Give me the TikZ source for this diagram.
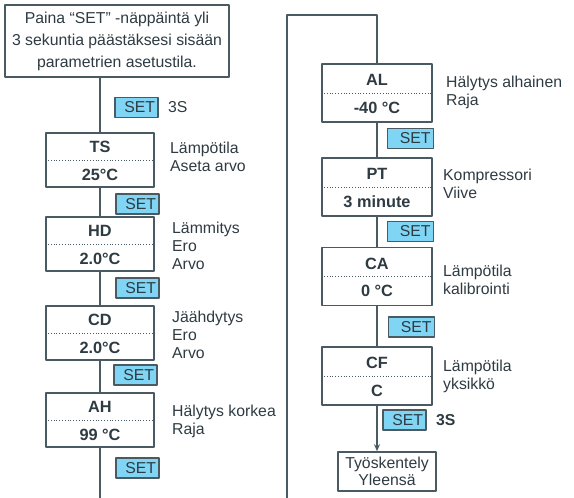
\documentclass[tikz,border=0pt]{standalone}
\usepackage{fontspec}
\setmainfont{Liberation Sans}
\usetikzlibrary{calc,arrows.meta}
\definecolor{viiva}{HTML}{4A5A62}
\definecolor{teksti}{HTML}{2E3B42}
\definecolor{setsin}{HTML}{80D4F4}
\tikzset{
	yhteys/.style={draw=viiva, line width=1.6pt},
	laatikko/.style={draw=viiva, line width=1.6pt, fill=white, inner sep=0pt},
	vasen/.style={laatikko, minimum width=108pt, minimum height=54pt},
	oikea/.style={laatikko, minimum width=110pt, minimum height=58pt},
	setnappi/.style={draw=viiva, line width=1.4pt, fill=setsin, text=teksti, inner xsep=3pt, inner ysep=0pt,
		text width=37pt, align=right, minimum height=20pt, font=\fontsize{15.8}{18}\selectfont},
	selite/.style={anchor=west, align=left, inner sep=0pt, text=teksti, font=\fontsize{15.8}{18}\selectfont},
	arvo/.style={inner sep=0pt, text=teksti, font=\fontsize{16.3}{18}\selectfont\bfseries},
}
% parametrilaatikko: nimi, tyyli, keskipiste, koodi, arvo
\newcommand{\parametri}[5]{%
	\node[#2] (#1) at (#3) {};
	\draw[viiva, dotted, line width=0.8pt] (#1.west) -- (#1.east);
	\node[arvo] at ($(#1.center)+(0,-13)$) {#4};
	\node[arvo] at ($(#1.center)+(0,14.5)$) {#5};
}
\begin{document}
\begin{tikzpicture}[x=1pt, y=-1pt, line join=round, >=Stealth]
	\useasboundingbox (0,0) rectangle (574,498);
	
	% Aloituslaatikko
	\node[laatikko, minimum width=224pt, minimum height=72pt, align=center, text=teksti,
		font=\fontsize{15.8}{22}\selectfont] (alku) at (117,41)
		{Paina “SET” -näppäintä yli\\3 sekuntia päästäksesi sisään\\parametrien asetustila.};
	
	% Vasen sarake
	\parametri{ts}{vasen}{100,160}{TS}{25°C}
	\parametri{hd}{vasen}{100,244}{HD}{2.0°C}
	\parametri{cd}{vasen}{100,333}{CD}{2.0°C}
	\parametri{ah}{vasen}{100,420}{AH}{99 °C}
	
	% Oikea sarake
	\parametri{al}{oikea}{377,93}{AL}{-40 °C}
	\parametri{pt}{oikea}{377,187}{PT}{3 minute}
	\parametri{ca}{oikea}{377,276.5}{CA}{0 °C}
	\parametri{cf}{oikea}{377,376}{CF}{C}
	
	\node[laatikko, minimum width=98pt, minimum height=39pt, align=center, text=teksti,
		font=\fontsize{15.8}{17}\selectfont] (tyo) at (387,471.5) {Työskentely\\Yleensä};
	
	% Yhteydet
	\coordinate (vasenloppu) at (100,498);
	\coordinate (alakulma) at (287,498);
	\coordinate (ylakulma) at (287,15);
	\coordinate (ylaoikea) at (377,15);
	\draw[yhteys] (alku.south -| ts.north) -- (ts.north);
	\draw[yhteys] (ts.south) -- (hd.north);
	\draw[yhteys] (hd.south) -- (cd.north);
	\draw[yhteys] (cd.south) -- (ah.north);
	\draw[yhteys] (ah.south) -- (vasenloppu);
	\draw[yhteys] (alakulma) -- (ylakulma) -- (ylaoikea) -- (al.north);
	\draw[yhteys] (al.south) -- (pt.north);
	\draw[yhteys] (pt.south) -- (ca.north);
	\draw[yhteys] (ca.south) -- (cf.north);
	\draw[yhteys, -{Stealth[length=7pt, width=6pt]}] (cf.south) -- (cf.south |- tyo.north);
	
	% SET-painikkeet
	\node[setnappi] (set1) at (136.5,107.5) {SET};
	\node[setnappi] (set2) at (137.5,204) {SET};
	\node[setnappi] (set3) at (137.5,288) {SET};
	\node[setnappi] (set4) at (135.5,375) {SET};
	\node[setnappi] (set5) at (137.5,468) {SET};
	\node[setnappi, text width=40pt] (set6) at (410.5,138.5) {SET};
	\node[setnappi, text width=40pt] (set7) at (410.5,231.5) {SET};
	\node[setnappi, text width=40pt] (set8) at (411.5,327) {SET};
	\node[setnappi] (set9) at (404.5,420) {SET};
	\node[selite] at (168,107.5) {3S};
	\node[selite, font=\fontsize{15.8}{18}\selectfont\bfseries] at (436,420) {3S};
	
	% Selitteet
	\node[selite] at (170,157) {Lämpötila\\Aseta arvo};
	\node[selite] at (172,246) {Lämmitys\\Ero\\Arvo};
	\node[selite] at (172,335) {Jäähdytys\\Ero\\Arvo};
	\node[selite] at (172,421) {Hälytys korkea\\Raja};
	\node[selite] at (446,92) {Hälytys alhainen\\Raja};
	\node[selite] at (443,184) {Kompressori\\Viive};
	\node[selite] at (443,279.5) {Lämpötila\\kalibrointi};
	\node[selite] at (443,376) {Lämpötila\\yksikkö};
\end{tikzpicture}
\end{document}
